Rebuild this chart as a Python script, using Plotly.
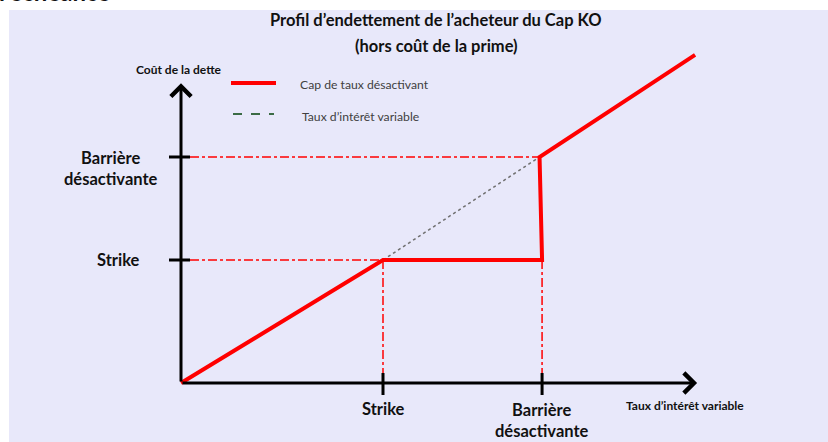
import plotly.graph_objects as go

# ---- data ----
strike_rate = 4.0          # x position of the strike
barrier_rate = 7.15        # x position of the knock-out barrier
strike_level = 4.0         # y level of the strike
barrier_level = 7.35       # y level of the barrier

cap_x = [0.0, 4.0, 7.15, 7.1, 10.18]
cap_y = [0.0, 4.0, 4.0, 7.35, 10.67]

var_x = [4.0, 7.1]
var_y = [4.0, 7.35]

x_tick_labels = ["Strike", "Barrière<br>désactivante"]
y_tick_labels = ["Strike", "Barrière<br>désactivante"]

x_axis_end = 10.22
y_axis_end = 9.75

# ---- pixel helpers for layout placement ----
X0, XU = 181.0, 50.5     # pixel of x=0, pixels per unit
Y0, YU = 383.0, 30.75    # pixel of y=0, pixels per unit
def px2x(p):
    return (p - X0) / XU
def px2y(p):
    return (Y0 - p) / YU

FONT = "Lato"
RED = "#ff0000"
BG = "#e8e8fa"

fig = go.Figure()

shapes = []
guide = dict(color=RED, width=1.5, dash="dashdot")
shapes.append(dict(type="line", xref="x", yref="y", x0=px2x(190), x1=var_x[1],
                   y0=barrier_level, y1=barrier_level, line=guide, layer="below"))
shapes.append(dict(type="line", xref="x", yref="y", x0=px2x(190), x1=strike_rate,
                   y0=strike_level, y1=strike_level, line=guide, layer="below"))
shapes.append(dict(type="line", xref="x", yref="y", x0=strike_rate, x1=strike_rate,
                   y0=strike_level, y1=px2y(373), line=guide, layer="below"))
shapes.append(dict(type="line", xref="x", yref="y", x0=barrier_rate, x1=barrier_rate,
                   y0=strike_level, y1=px2y(373), line=guide, layer="below"))

tick = dict(color="black", width=3)
for lvl in [strike_level, barrier_level]:
    shapes.append(dict(type="line", xref="x", yref="y", x0=px2x(169), x1=px2x(190),
                       y0=lvl, y1=lvl, line=tick))
for r in [strike_rate, barrier_rate]:
    shapes.append(dict(type="line", xref="x", yref="y", x0=r, x1=r,
                       y0=px2y(373), y1=px2y(395), line=tick))

# legend samples
shapes.append(dict(type="line", xref="x", yref="y", x0=px2x(231), x1=px2x(276),
                   y0=px2y(83), y1=px2y(83), line=dict(color=RED, width=4)))
shapes.append(dict(type="line", xref="x", yref="y", x0=px2x(233), x1=px2x(274),
                   y0=px2y(114), y1=px2y(114), line=dict(color="#3b6b45", width=2, dash="dash")))

fig.add_trace(go.Scatter(x=var_x, y=var_y, mode="lines",
                         line=dict(color="#707070", width=1.5, dash="dot"),
                         hoverinfo="skip", showlegend=False))
fig.add_trace(go.Scatter(x=cap_x, y=cap_y, mode="lines",
                         line=dict(color=RED, width=4),
                         hoverinfo="skip", showlegend=False))

ann = []
ann.append(dict(x=0, y=y_axis_end, ax=0, ay=0, xref="x", yref="y", axref="x", ayref="y",
                showarrow=True, arrowhead=4, arrowsize=1.3, arrowwidth=3, arrowcolor="black", text=""))
ann.append(dict(x=x_axis_end, y=0, ax=0, ay=0, xref="x", yref="y", axref="x", ayref="y",
                showarrow=True, arrowhead=4, arrowsize=1.3, arrowwidth=3, arrowcolor="black", text=""))

bold = dict(family=FONT, size=16.5, color="#111111")
ann.append(dict(x=px2x(142), y=strike_level, xref="x", yref="y", text="<b>" + y_tick_labels[0] + "</b>",
                showarrow=False, xanchor="right", yanchor="middle", font=bold))
ann.append(dict(x=px2x(111), y=px2y(168), xref="x", yref="y", text="<b>" + y_tick_labels[1] + "</b>",
                showarrow=False, xanchor="center", yanchor="middle", font=bold, align="center"))
ann.append(dict(x=strike_rate, y=px2y(409), xref="x", yref="y", text="<b>" + x_tick_labels[0] + "</b>",
                showarrow=False, xanchor="center", yanchor="middle", font=bold))
ann.append(dict(x=barrier_rate, y=px2y(420), xref="x", yref="y", text="<b>" + x_tick_labels[1] + "</b>",
                showarrow=False, xanchor="center", yanchor="middle", font=bold, align="center"))

small_bold = dict(family=FONT, size=12, color="#111111")
ann.append(dict(x=px2x(179), y=px2y(69), xref="x", yref="y", text="<b>Coût de la dette</b>",
                showarrow=False, xanchor="center", yanchor="middle", font=small_bold))
ann.append(dict(x=px2x(685), y=px2y(405), xref="x", yref="y", text="<b>Taux d’intérêt variable</b>",
                showarrow=False, xanchor="center", yanchor="middle", font=small_bold))

leg = dict(family=FONT, size=12.2, color="#404040")
ann.append(dict(x=px2x(298), y=px2y(84), xref="x", yref="y", text="Cap de taux désactivant",
                showarrow=False, xanchor="left", yanchor="middle", font=leg))
ann.append(dict(x=px2x(300), y=px2y(116), xref="x", yref="y", text="Taux d’intérêt variable",
                showarrow=False, xanchor="left", yanchor="middle", font=leg))

title_font = dict(family=FONT, size=16.5, color="#111111")
ann.append(dict(x=px2x(436), y=px2y(20), xref="x", yref="y",
                text="<b>Profil d’endettement de l’acheteur du Cap KO</b>",
                showarrow=False, xanchor="center", yanchor="middle", font=title_font))
ann.append(dict(x=px2x(436), y=px2y(46), xref="x", yref="y",
                text="<b>(hors coût de la prime)</b>",
                showarrow=False, xanchor="center", yanchor="middle", font=title_font))

# cropped heading from the page above
ann.append(dict(x=0, y=1, xref="paper", yref="paper", xshift=-12, yshift=19,
                text="<b>l’échéance</b>", showarrow=False, xanchor="left", yanchor="middle",
                font=dict(family=FONT, size=24, color="#111111")))

fig.update_layout(
    width=828, height=442,
    margin=dict(l=9, r=0, t=10, b=0),
    paper_bgcolor="white", plot_bgcolor=BG,
    xaxis=dict(visible=False, range=[px2x(9), px2x(828)], fixedrange=True),
    yaxis=dict(visible=False, range=[px2y(442), px2y(10)], fixedrange=True),
    shapes=shapes, annotations=ann, showlegend=False,
)

fig.write_html("out.html", config={"displayModeBar": False},
               post_script="document.body.style.margin='0';document.body.style.overflow='hidden';")
